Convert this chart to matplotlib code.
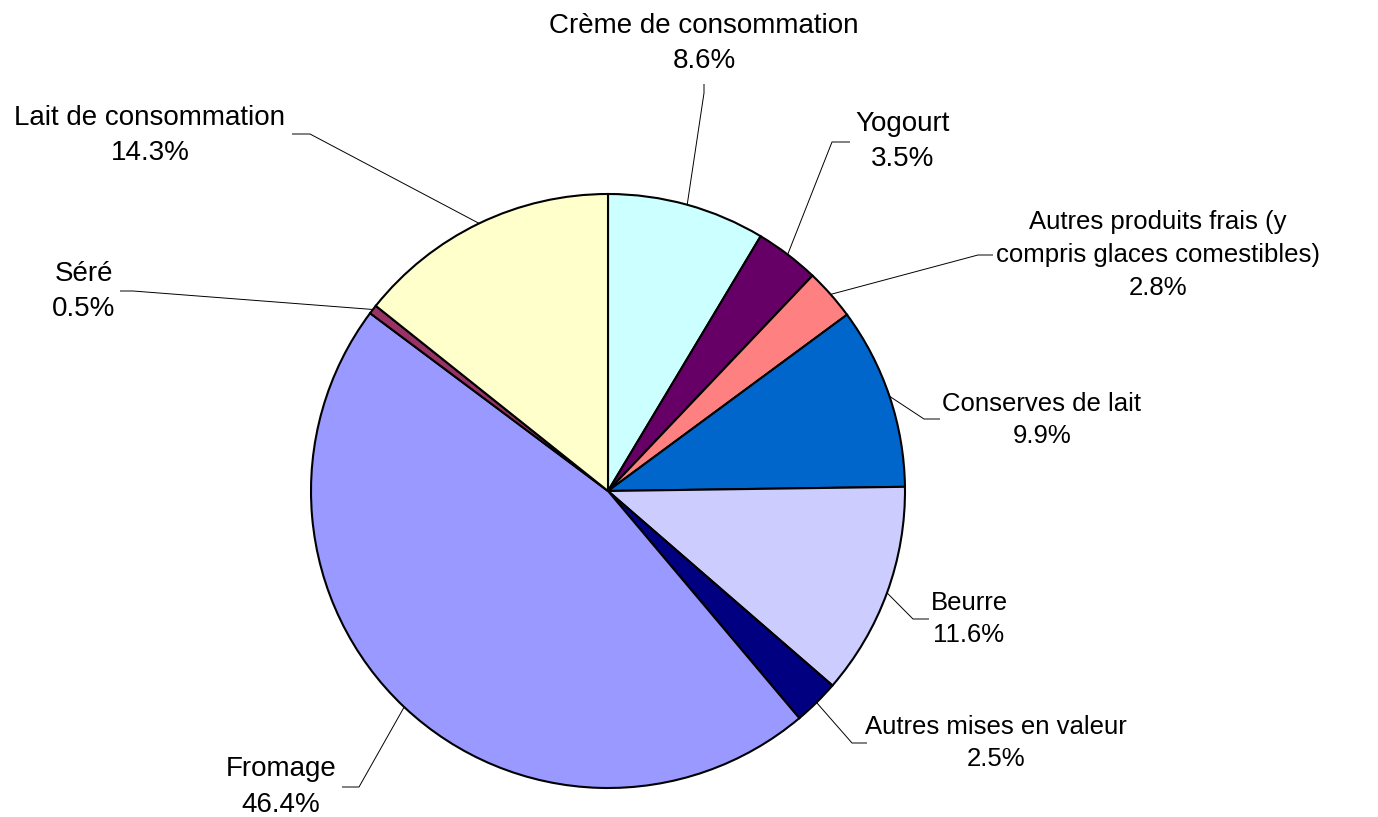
import matplotlib
matplotlib.use("Agg")
import matplotlib.pyplot as plt
import numpy as np

# categories, clockwise from 12 o'clock
categories = ["Crème de consommation", "Yogourt",
              "Autres produits frais (y\ncompris glaces comestibles)",
              "Conserves de lait", "Beurre", "Autres mises en valeur",
              "Fromage", "Séré", "Lait de consommation"]
shares = [8.6, 3.5, 2.8, 9.9, 11.6, 2.5, 46.4, 0.5, 14.3]
colors = ["#CCFFFF", "#660066", "#FF8080", "#0066CC", "#CCCCFF",
          "#000080", "#9999FF", "#993366", "#FFFFCC"]

W, H = 1378, 817
# label block centre and leader elbow/end, in pixels (y from top)
label_pos = [(704, 43), (903, 141), (1158, 255), (1042, 420), (969, 619),
             (996, 743), (281, 787), (84, 291), (150, 135)]
label_size = [20, 20, 18.5, 18.5, 18.5, 18.5, 20, 20, 20]
elbows = [((704, 93), (704, 84)), ((832, 142), (850, 142)),
          ((978, 255), (993, 255)), ((924, 419), (940, 419)),
          ((913, 619), (929, 619)), ((852, 743), (867, 743)),
          ((359, 787), (342, 787)), ((133, 291), (120, 291)),
          ((310, 134), (292, 134))]

plt.rcParams['font.family'] = ['Liberation Sans', 'DejaVu Sans']

fig = plt.figure(figsize=(W / 100, H / 100), dpi=100)
ax = fig.add_axes([0, 0, 1, 1])
ax.axis('off')

cx, cy, r = 608, H - 491, 297
wedges, _ = ax.pie(shares, colors=colors, startangle=90, counterclock=False,
                   center=(cx, cy), radius=r, normalize=True,
                   wedgeprops=dict(edgecolor='black', linewidth=1.5))
ax.set_xlim(0, W)
ax.set_ylim(0, H)
ax.set_aspect('equal')

for w, name, v, (tx, ty), fs, (e1, e2) in zip(wedges, categories, shares,
                                              label_pos, label_size, elbows):
    mid = np.deg2rad((w.theta1 + w.theta2) / 2)
    px, py = cx + r * np.cos(mid), cy + r * np.sin(mid)
    ax.plot([px, e1[0], e2[0]], [py, H - e1[1], H - e2[1]],
            color='black', lw=0.7, solid_capstyle='butt')
    ax.text(tx, H - ty, f"{name}\n{v:.1f}%", ha='center', va='center',
            ma='center', fontsize=fs, linespacing=1.45)

fig.savefig("out.png", dpi=100)
